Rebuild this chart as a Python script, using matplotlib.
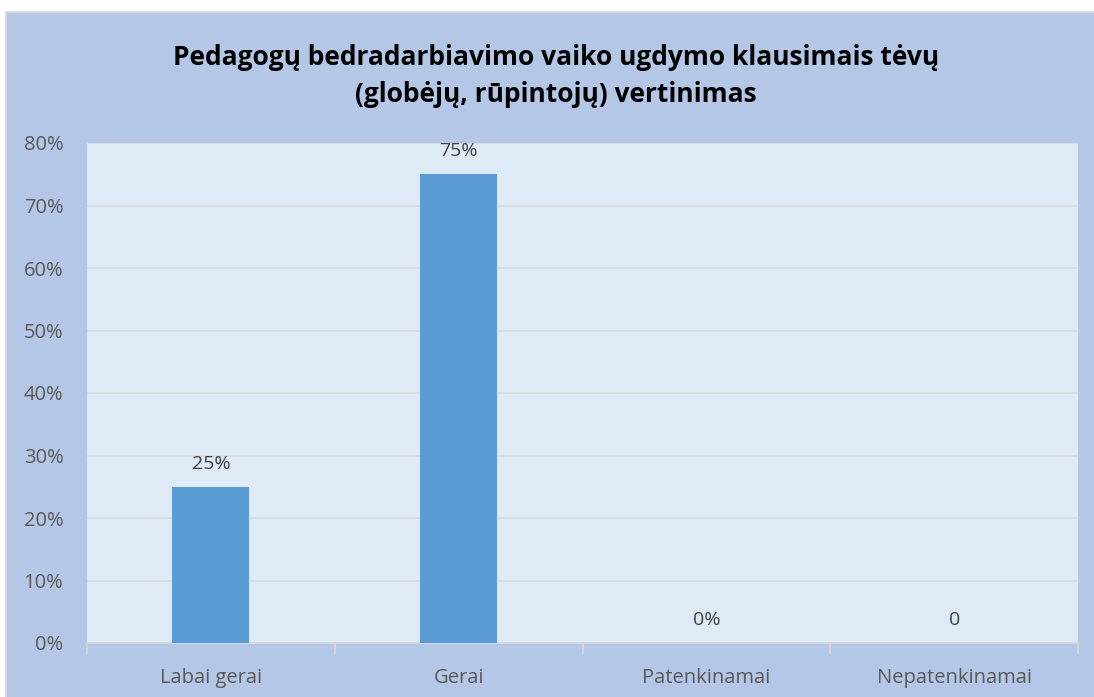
import matplotlib.pyplot as plt
from matplotlib.patches import Rectangle

categories = ['Labai gerai', 'Gerai', 'Patenkinamai', 'Nepatenkinamai']
values = [0.25, 0.75, 0.0, 0.0]
value_labels = ['25%', '75%', '0%', '0']
yticks = [0, 0.1, 0.2, 0.3, 0.4, 0.5, 0.6, 0.7, 0.8]
ytick_labels = ['0%', '10%', '20%', '30%', '40%', '50%', '60%', '70%', '80%']
title = 'Pedagogų bedradarbiavimo vaiko ugdymo klausimais tėvų\n(globėjų, rūpintojų) vertinimas'

plt.rcParams['font.family'] = ['Open Sans', 'DejaVu Sans']

W, H = 1094, 697
fig = plt.figure(figsize=(W / 100, H / 100), dpi=100)
fig.patch.set_facecolor('white')

# blue chart area with thin gray border (runs off the right and bottom edges)
fig.patches.append(Rectangle((6 / W, -0.05), 1.1, 1.05 - 12 / H, transform=fig.transFigure,
                             facecolor='#B4C7E7', edgecolor='#D9D9D9', linewidth=1.2, zorder=-5))

l, r, t, b = 87, 1078, 143, 643
ax = fig.add_axes([l / W, 1 - b / H, (r - l) / W, (b - t) / H])
ax.set_facecolor('#DEEBF7')

x = range(len(categories))
ax.bar(x, values, width=0.31, color='#5B9BD5', zorder=3)
for i, (v, s) in enumerate(zip(values, value_labels)):
    ax.annotate(s, (i, v), xytext=(0, 10), textcoords='offset points',
                ha='center', va='bottom', fontsize=14, color='#404040')

ax.set_xlim(-0.5, len(categories) - 0.5)
ax.set_ylim(0, 0.8)
ax.set_yticks(yticks)
ax.set_yticklabels(ytick_labels, fontsize=14.5, color='#595959')
ax.set_xticks(list(x))
ax.set_xticklabels(categories, fontsize=14.5, color='#595959')
ax.tick_params(axis='y', length=0, pad=17)
ax.tick_params(axis='x', length=0, pad=18)
ax.grid(axis='y', color='#D9D9D9', linewidth=1.2, zorder=0)
for sp in ['top', 'right', 'left']:
    ax.spines[sp].set_visible(False)
ax.spines['bottom'].set_color('#D9D9D9')
ax.spines['bottom'].set_linewidth(1.2)
# minor ticks between categories
ax.set_xticks([-0.5, 0.5, 1.5, 2.5, 3.5], minor=True)
ax.tick_params(axis='x', which='minor', length=8, color='#D9D9D9', width=1.2)

fig.text(556 / W, 1 - 76 / H, title, ha='center', va='center', fontsize=19,
         fontweight='bold', color='black', linespacing=1.45)

fig.savefig('out.png', dpi=100)
